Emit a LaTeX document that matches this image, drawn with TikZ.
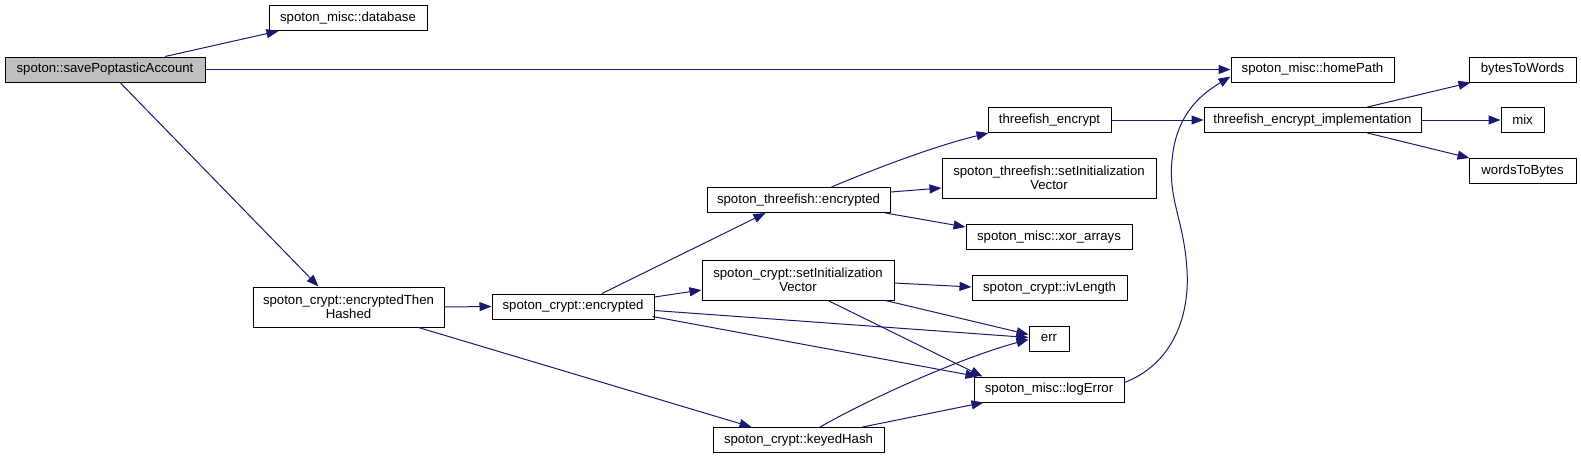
\documentclass[tikz,border=0pt]{standalone}
\usepackage{fontspec}
\setmainfont{Liberation Sans}
\usetikzlibrary{arrows.meta, positioning, calc}
\definecolor{callblue}{HTML}{191970}
\definecolor{rootgray}{HTML}{BFBFBF}

\begin{document}
\begin{tikzpicture}[
  x=1pt, y=-1pt,
  >={Triangle[length=12pt, width=9pt]},
  fnbox/.style={draw=black, line width=1pt, fill=white, minimum height=25pt,
                inner sep=0pt, align=center, font=\fontsize{13.2}{14.5}\selectfont},
  fnboxtwo/.style={fnbox, minimum height=40pt},
  call/.style={->, line width=1pt, callblue},
]

\useasboundingbox (0,0) rectangle (1581,459);

% === Root ===
\node[fnbox, fill=rootgray, minimum width=200pt] (save) at (105,69.5) {spoton::savePoptasticAccount};

% === Column 1 ===
\node[fnbox, minimum width=158pt] (database) at (348,18) {spoton\_misc::database};
\node[fnboxtwo, minimum width=191pt] (eth) at (348.5,307) {spoton\_crypt::encryptedThen\\Hashed};

% === Column 2 ===
\node[fnbox, minimum width=162pt] (cenc) at (573,306.5) {spoton\_crypt::encrypted};

% === Column 3 ===
\node[fnbox, minimum width=183pt] (tfenc) at (798.5,200) {spoton\_threefish::encrypted};
\node[fnboxtwo, minimum width=192pt] (csetiv) at (798,280) {spoton\_crypt::setInitialization\\Vector};
\node[fnbox, minimum width=171pt] (keyed) at (798.5,440) {spoton\_crypt::keyedHash};

% === Column 4 ===
\node[fnbox, minimum width=123pt] (tfencrypt) at (1049.5,120) {threefish\_encrypt};
\node[fnboxtwo, minimum width=214pt] (tfsetiv) at (1049,178) {spoton\_threefish::setInitialization\\Vector};
\node[fnbox, minimum width=166pt] (xor) at (1049,237) {spoton\_misc::xor\_arrays};
\node[fnbox, minimum width=155pt] (ivlen) at (1049.5,288) {spoton\_crypt::ivLength};
\node[fnbox, minimum width=40pt] (err) at (1049,338.5) {err};
\node[fnbox, minimum width=150pt] (logerr) at (1049,389.5) {spoton\_misc::logError};

% === Column 5 ===
\node[fnbox, minimum width=163pt] (home) at (1312.5,69.5) {spoton\_misc::homePath};
\node[fnbox, minimum width=217pt] (impl) at (1312.5,120) {threefish\_encrypt\_implementation};

% === Column 6 ===
\node[fnbox, minimum width=107pt] (b2w) at (1522.5,69.5) {bytesToWords};
\node[fnbox, minimum width=43pt] (mix) at (1522.5,120) {mix};
\node[fnbox, minimum width=107pt] (w2b) at (1522.5,171) {wordsToBytes};

% Calls from the root
\draw[call] ($(save.north)+(60,0)$) -- ($(database.south west)+(10,0)$);
\draw[call] (save.east) -- (home.west);
\draw[call] ($(save.south)+(15,0)$) -- ($(eth.north)+(-30,0)$);

% Calls from encryptedThenHashed
\draw[call] (eth.east) -- (cenc.west);
\draw[call] ($(eth.south)+(70,0)$) -- ($(keyed.north west)+(39,0)$);

% Calls from spoton_crypt::encrypted
\draw[call] ($(cenc.north)+(29,0)$) -- ($(tfenc.south)+(-33,0)$);
\draw[call] ($(cenc.east)+(0,-9.5)$) -- ($(csetiv.west)+(0,10)$);
\draw[call] ($(cenc.east)+(0,4)$) -- ($(err.west)+(0,-1)$);
\draw[call] ($(cenc.south east)+(-2,-3)$) -- ($(logerr.north west)+(4,0)$);

% Calls from spoton_threefish::encrypted
\draw[call] ($(tfenc.north)+(33,0)$) .. controls +(50,-21) and +(-50,12) .. ($(tfencrypt.south west)+(1,0)$);
\draw[call] ($(tfenc.east)+(0,-8)$) -- ($(tfsetiv.west)+(0,10)$);
\draw[call] ($(tfenc.south east)+(-5,0)$) -- ($(xor.west)+(0,-10)$);

% Calls from spoton_crypt::setInitializationVector
\draw[call] ($(csetiv.east)+(0,3)$) -- ($(ivlen.west)+(0,-1)$);
\draw[call] ($(csetiv.south east)+(-9,0)$) -- ($(err.west)+(0,-4)$);
\draw[call] ($(csetiv.south)+(30,0)$) -- ($(logerr.north west)+(9,0)$);

% Calls from keyedHash
\draw[call] ($(keyed.north)+(21.5,0)$) .. controls +(60,-34) and +(-60,16) .. ($(err.west)+(0,1)$);
\draw[call] ($(keyed.north east)+(-22,0)$) -- ($(logerr.south west)+(10,0)$);

% logError back up to homePath
\draw[call] ($(logerr.east)+(0,-7)$) .. controls (1170,365) and (1190,320) .. (1187,270)
  .. controls (1184,220) and (1168,200) .. (1172,160)
  .. controls (1176,115) and (1200,95) .. ($(home.south west)+(0,-6)$);

% Threefish chain
\draw[call] (tfencrypt.east) -- (impl.west);
\draw[call] ($(impl.north)+(55,0)$) -- ($(b2w.south west)+(2,0)$);
\draw[call] (impl.east) -- (mix.west);
\draw[call] ($(impl.south)+(55,0)$) -- ($(w2b.north west)+(1,0)$);

\end{tikzpicture}
\end{document}
